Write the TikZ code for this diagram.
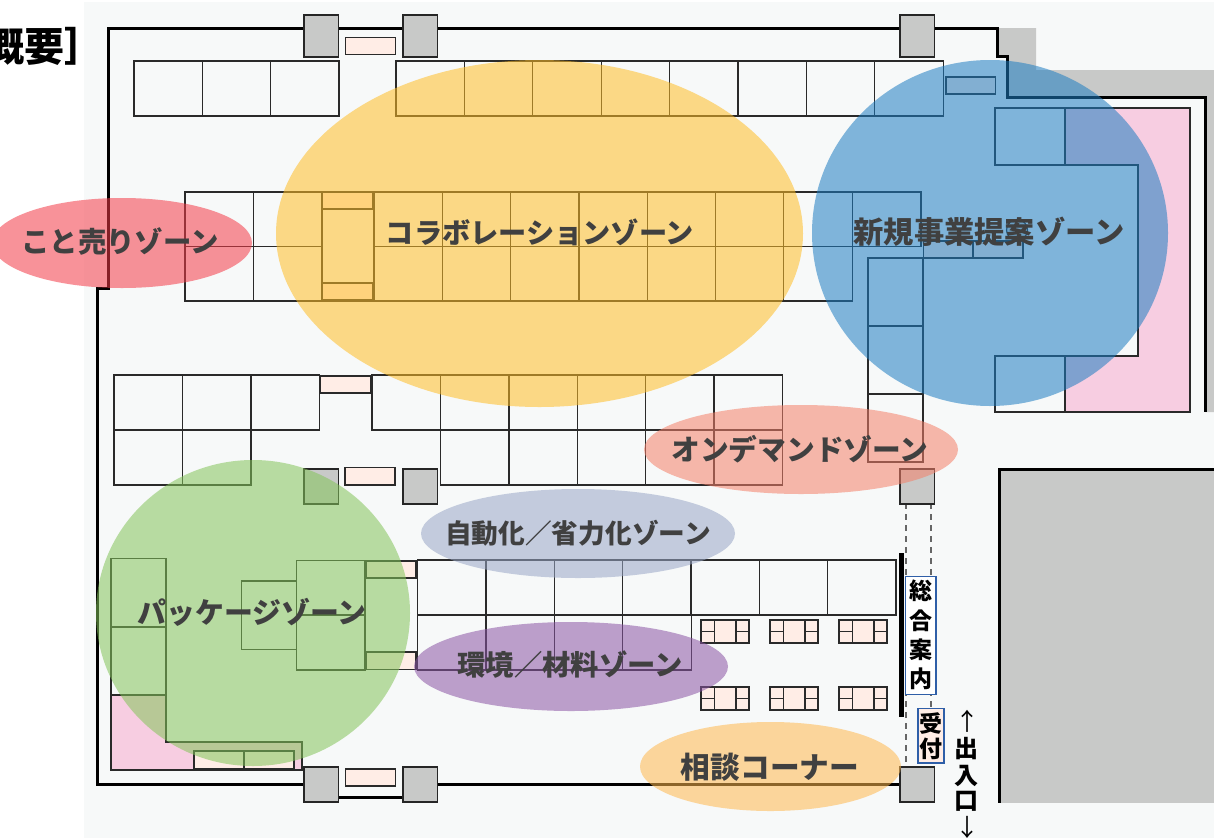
\documentclass[tikz,border=0pt]{standalone}
\usepackage{fontspec}
\newfontfamily\jp{Noto Sans CJK JP}
\definecolor{pagebg}{HTML}{F7F9F9}
\definecolor{bldg}{HTML}{C8C9C8}
\definecolor{pinkarea}{HTML}{F7CDE1}
\definecolor{salmonbox}{HTML}{FFEDE6}
\definecolor{labelink}{HTML}{404040}
\definecolor{linecol}{HTML}{2A2A2A}
\definecolor{infoblue}{HTML}{2F5FA8}
\newcommand{\jpsize}[1]{\jp\bfseries\fontsize{#1}{#1}\selectfont}
\tikzset{
  booth/.style={draw=linecol,line width=1.2pt},
  minibox/.style={draw=linecol,line width=1.2pt,fill=salmonbox},
  pillar/.style={draw=black!85,line width=1.2pt,fill=bldg},
  wall/.style={draw=black,line width=3pt,line join=miter},
  zone/.style={opacity=.55},
  zonelabel/.style={text=labelink,inner sep=0pt},
  signlabel/.style={font=\jpsize{23},text=black,inner sep=0pt},
  arrowlabel/.style={font=\jp\fontsize{24}{24}\selectfont,text=black,inner sep=0pt},
}
\begin{document}
\begin{tikzpicture}[x=1pt,y=-1pt]
\useasboundingbox (0,0) rectangle (1214,838);
\fill[white] (0,0) rectangle (1214,838);
\fill[pagebg] (84,2) rectangle (1214,838);
% title fragment
\node[anchor=west,inner sep=0pt,font=\jpsize{40}] (title) at (-16,46) {概要］};
% grey surroundings
\fill[bldg] (997,28) -- (1036,28) -- (1036,70) -- (1214,70) -- (1214,412) -- (1205,412) -- (1205,97) -- (1007,97) -- (1007,56) -- (997,56) -- cycle;
\fill[bldg] (999,469) rectangle (1214,803);
\draw[wall] (1214,469) -- (999,469) -- (999,803);
% outer wall
\draw[wall] (304,784) -- (97,784) -- (97,288) -- (108,288) -- (108,28) -- (997,28) -- (997,56) -- (1007,56) -- (1007,97) -- (1205,97) -- (1205,412);
\draw[wall] (338,797) -- (403,797);
\draw[wall] (437,784) -- (900,784);
% pink areas
\fill[pinkarea] (1065,108) rectangle (1190,412);
\fill[pagebg] (1065,165) rectangle (1138,356);
\draw[booth] (1065,108) -- (1190,108) -- (1190,412) -- (1065,412);
\draw[booth] (995,165) -- (1138,165) -- (1138,356) -- (995,356);
\draw[booth] (995,108) rectangle (1065,165);
\draw[booth] (995,356) rectangle (1065,412);
\fill[pinkarea,draw=linecol,line width=1.2pt] (111,695) -- (166,695) -- (166,742) -- (302,742) -- (302,770) -- (111,770) -- cycle;
% top rows
\foreach \x in {134,202.3,270.6}{\draw[booth] (\x,61) rectangle ++(68.3,55);}
\foreach \x in {396,464.4,532.8,601.2,669.6,738,806.4,874.8}{\draw[booth] (\x,61) rectangle ++(68.4,55);}
% collaboration row
\foreach \x in {185,253.5}{\draw[booth] (\x,192) rectangle ++(68.5,54.5);\draw[booth] (\x,246.5) rectangle ++(68.5,54.5);}
\foreach \x in {374,442.3,510.6,578.9,647.2,715.5,783.8}{\draw[booth] (\x,192) rectangle ++(68.3,54.5);\draw[booth] (\x,246.5) rectangle ++(68.3,54.5);}
\draw[booth] (852.1,192) rectangle (921,246.5);
\draw[booth] (322,192) rectangle (374,301);
\draw[minibox] (322.5,192) rectangle (372.5,209);
\draw[minibox] (322.5,283) rectangle (372.5,300);
% right-hand column
\draw[booth] (868,258) rectangle (923,326);
\draw[booth] (868,326) rectangle (923,394);
\draw[booth] (868,394) rectangle (923,462);
\draw[minibox] (946,77) rectangle (995.5,94);
\draw[minibox] (923.5,241) rectangle (973,258);
\draw[minibox] (973,241) rectangle (1023,258);
\draw[draw=linecol,fill=bldg,line width=1.2pt] (1017,230) circle (10.5);
% middle rows
\foreach \x in {114,182.5,251}{\draw[booth] (\x,375) rectangle ++(68.5,55);}
\foreach \x in {114,182.5}{\draw[booth] (\x,430) rectangle ++(68.5,55);}
\foreach \x in {372,440.5,509,577.3,645.6,713.9}{\draw[booth] (\x,375) rectangle ++(68.4,55);}
\foreach \x in {440.5,509,577.3,645.6,713.9}{\draw[booth] (\x,430) rectangle ++(68.4,55);}
\draw[minibox] (320.5,376) rectangle (370.5,393);
\draw[minibox] (345,467.5) rectangle (395,485);
% lower rows
\foreach \x in {417.5,486,554.4,622.8,691,759.3,827.6}{\draw[booth] (\x,560) rectangle ++(68.4,55);}
\foreach \x in {417.5,486,554.4,622.8}{\draw[booth] (\x,615) rectangle ++(68.4,55);}
% left block
\draw[booth] (111,558.5) rectangle (166,627);
\draw[booth] (111,627) rectangle (166,695);
\draw[booth] (241.5,581) rectangle (296.5,649.5);
\draw[booth] (296.5,560.5) rectangle (365,615);
\draw[booth] (296.5,615) rectangle (365,670);
\draw[minibox] (366,561) rectangle (416,578);
\draw[minibox] (366,652) rectangle (416,669.5);
\draw[minibox] (194,751) rectangle (244,769);
\draw[minibox] (244,751) rectangle (294,769);
% small boxes at the wall
\draw[minibox] (345.5,37.5) rectangle (395.5,54.5);
\draw[minibox] (345.5,769) rectangle (395.5,786);
% seating sets
\foreach \x in {701,770,839}{\foreach \y in {620,687}{
  \draw[minibox] (\x,\y) rectangle ({\x+48},{\y+23});
  \draw[minibox] (\x,\y) rectangle ({\x+13.5},{\y+23});
  \draw[minibox] ({\x+35},\y) rectangle ({\x+48},{\y+23});
  \draw[draw=linecol,line width=1.2pt] (\x,{\y+11.5}) -- ({\x+13.5},{\y+11.5}) ({\x+35},{\y+11.5}) -- ({\x+48},{\y+11.5});
}}
% entrance
\draw[draw=black!60,line width=1.2pt,dash pattern=on 6pt off 5pt] (906,503) -- (906,767);
\draw[draw=black!60,line width=1.2pt,dash pattern=on 6pt off 5pt] (931,503) -- (931,767);
\fill[black] (898.5,553) rectangle (904,717);
% pillars
\foreach \x in {304,403,900}{
  \draw[pillar] (\x,15) rectangle ({\x+34.5},57);
  \foreach \y in {469,767}{\draw[pillar] (\x,\y) rectangle ({\x+34.5},{\y+35});}
}
% zones
\fill[zone,fill={rgb,255:red,255;green,189;blue,38}] (539.5,233.5) ellipse (263.5 and 173.5);
\fill[zone,fill={rgb,255:red,244;green,58;blue,71}] (122,243) ellipse (130 and 45);
\fill[zone,fill={rgb,255:red,29;green,125;blue,194}] (990,233) ellipse (178 and 173);
\fill[zone,fill={rgb,255:red,244;green,127;blue,104}] (801,449.5) ellipse (157 and 44.5);
\fill[zone,fill={rgb,255:red,153;green,167;blue,198}] (578,533.5) ellipse (157 and 44.5);
\fill[zone,fill={rgb,255:red,131;green,196;blue,89}] (253,613) ellipse (157 and 153);
\fill[zone,fill={rgb,255:red,138;green,84;blue,164}] (571,666.5) ellipse (157 and 44.5);
\fill[zone,fill={rgb,255:red,255;green,184;blue,78}] (770.5,766.5) ellipse (130.5 and 44.5);
% zone labels
\node[zonelabel,font=\jpsize{28.4}] (z1) at (120,241) {こと売りゾーン};
\node[zonelabel,font=\jpsize{28.2}] (z2) at (540,232) {コラボレーションゾーン};
\node[zonelabel,font=\jpsize{30.3}] (z3) at (989,232) {新規事業提案ゾーン};
\node[zonelabel,font=\jpsize{28.7}] (z4) at (800,449) {オンデマンドゾーン};
\node[zonelabel,font=\jpsize{26.7}] (z5) at (578,533) {自動化／省力化ゾーン};
\node[zonelabel,font=\jpsize{28.9}] (z6) at (252,612) {パッケージゾーン};
\node[zonelabel,font=\jpsize{28.3}] (z7) at (570,665) {環境／材料ゾーン};
\node[zonelabel,font=\jpsize{29.7}] (z8) at (770,767) {相談コーナー};
% signs
\draw[draw=infoblue,line width=1.2pt,fill=white] (905.5,576.5) rectangle (936,694.5);
\draw[draw=infoblue,line width=1.2pt,fill=salmonbox] (918,708.5) rectangle (944,763);
\node[signlabel] (s1) at (920.5,591) {総};
\node[signlabel] (s2) at (920.5,621) {合};
\node[signlabel] (s3) at (920.5,650) {案};
\node[signlabel] (s4) at (920.5,679) {内};
\node[signlabel] (s5) at (931,724) {受};
\node[signlabel] (s6) at (931,749) {付};
\node[arrowlabel] (e1) at (967,721) {↑};
\node[signlabel,font=\jpsize{24}] (e2) at (966,749) {出};
\node[signlabel,font=\jpsize{24}] (e3) at (966,776) {入};
\node[signlabel,font=\jpsize{24}] (e4) at (966,801) {口};
\node[arrowlabel] (e5) at (967,827) {↓};
\end{tikzpicture}
\end{document}
